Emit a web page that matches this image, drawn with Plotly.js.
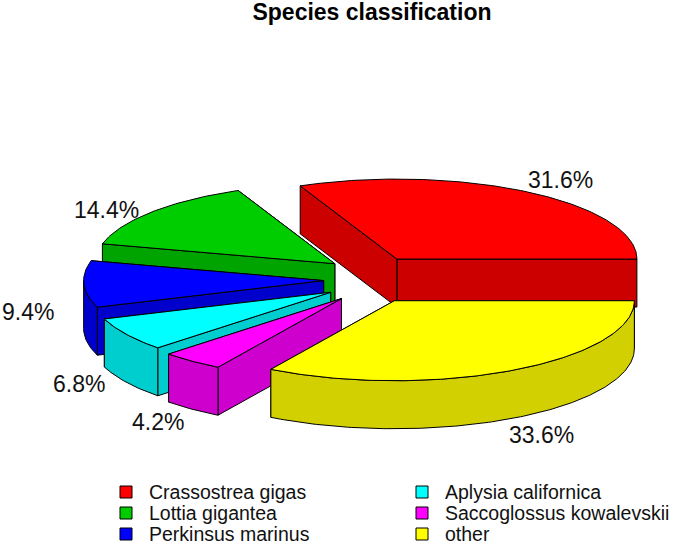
<!DOCTYPE html>
<html>
<head>
<meta charset="utf-8">
<script src="https://cdn.plot.ly/plotly-3.0.1.min.js"></script>
<style>html,body{margin:0;padding:0;background:#fff}</style>
</head>
<body>
<div id="chart" style="width:675px;height:546px"></div>
<script>
// Data
const species = ["Crassostrea gigas","Lottia gigantea","Perkinsus marinus","Aplysia californica","Saccoglossus kowalevskii","other"];
const shares = [31.6,14.4,9.4,6.8,4.2,33.6];
const percentLabels = ["31.6%","14.4%","9.4%","6.8%","4.2%","33.6%"];

// Styles and layout
const topColors = ["#ff0000","#00cd00","#0000ff","#00ffff","#ff00ff","#ffff00"];
const sideColors = ["#cd0000","#00a400","#0000cd","#00cdcd","#cd00cd","#d2d000"];
const paintOrder = [0,1,2,3,4,5];
const centre = {x:371, y:279.5};
const radius = {x:240, y:80};
const explode = {x:47.4, y:24.4};
const depth = 48;
const labelAnchors = [[560,180],[106,210],[28,312],[79,384],[158,422],[541,435]];
const legendRows = [492,513,534];
const legendCols = [126,422];
const legendTextOffset = 21;

const total = shares.reduce((a,b)=>a+b,0);
let start = 0;
const slices = shares.map((v,i)=>{
  const a0 = start, a1 = start + v/total*2*Math.PI;
  start = a1;
  const mid = (a0+a1)/2;
  return {i,a0,a1,ax:centre.x+explode.x*Math.cos(mid),ay:centre.y-explode.y*Math.sin(mid)};
});

function rim(s,a){return [s.ax+radius.x*Math.cos(a), s.ay-radius.y*Math.sin(a)];}
function poly(xs,ys,fill){
  return {type:"scatter",mode:"lines",x:xs,y:ys,fill:"toself",fillcolor:fill,
    line:{color:"#000",width:1,shape:"linear"},hoverinfo:"skip",showlegend:false};
}
function arcPts(s,a0,a1){
  const n = Math.max(8,Math.ceil((a1-a0)/0.015));
  const out=[];
  for(let k=0;k<=n;k++) out.push(rim(s,a0+(a1-a0)*k/n));
  return out;
}
const traces=[];
paintOrder.forEach(idx=>{
  const s=slices[idx], pts=arcPts(s,s.a0,s.a1), side=sideColors[idx];
  // cut walls first, so the outer wall and the top cover their hidden parts
  [pts[0],pts[pts.length-1]].forEach(p=>{
    traces.push(poly([s.ax,p[0],p[0],s.ax,s.ax],[s.ay,p[1],p[1]+depth,s.ay+depth,s.ay],side));
  });
  // outer wall: only the front-facing part of the rim
  const f0=Math.max(s.a0,Math.PI), f1=s.a1;
  if(f1>f0){
    const fp=arcPts(s,f0,f1);
    const xw=fp.map(p=>p[0]).concat(fp.map(p=>p[0]).reverse());
    const yw=fp.map(p=>p[1]).concat(fp.map(p=>p[1]+depth).reverse());
    traces.push(poly(xw.concat(xw[0]),yw.concat(yw[0]),side));
  }
  // top
  traces.push(poly([s.ax].concat(pts.map(p=>p[0]),s.ax),[s.ay].concat(pts.map(p=>p[1]),s.ay),topColors[idx]));
});

// Legend
species.forEach((name,i)=>{
  const col=Math.floor(i/3), row=i%3;
  traces.push({type:"scatter",mode:"markers",x:[legendCols[col]],y:[legendRows[row]],
    marker:{symbol:"square",size:12,color:topColors[i],line:{color:"#000",width:1}},
    hoverinfo:"skip",showlegend:false});
});

const annotations = percentLabels.map((t,i)=>({
  x:labelAnchors[i][0],y:labelAnchors[i][1],xref:"x",yref:"y",text:t,showarrow:false,
  xanchor:"center",yanchor:"middle",font:{family:"Liberation Sans",size:23,color:"#111"}
})).concat(species.map((name,i)=>({
  x:legendCols[Math.floor(i/3)]+legendTextOffset,y:legendRows[i%3],xref:"x",yref:"y",text:name,showarrow:false,
  xanchor:"left",yanchor:"middle",font:{family:"Liberation Sans",size:19.5,color:"#111"}
})));

Plotly.newPlot("chart",traces,{
  width:675,height:546,margin:{l:0,r:0,t:0,b:0},
  paper_bgcolor:"#fff",plot_bgcolor:"#fff",showlegend:false,
  title:{text:"Species classification",x:372/675,xanchor:"center",y:1-12/546,yanchor:"middle",
    font:{family:"Liberation Sans",size:23,color:"#000",weight:"bold"}},
  xaxis:{range:[0,675],visible:false,fixedrange:true},
  yaxis:{range:[546,0],visible:false,fixedrange:true},
  annotations
},{displayModeBar:false,staticPlot:true});
</script>
</body>
</html>
